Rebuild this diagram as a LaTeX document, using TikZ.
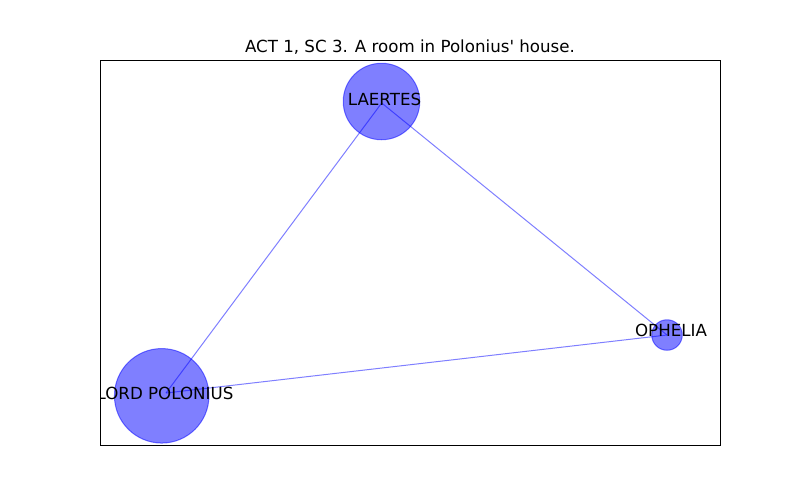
\documentclass[tikz,border=0pt]{standalone}
\usepackage{fontspec}
\setmainfont{DejaVu Sans}[Ligatures=TeXOff]
\begin{document}
\begin{tikzpicture}[x=0.72pt,y=-0.72pt,
  edge/.style={draw=blue,draw opacity=0.5,line width=0.72pt},
  person/.style={circle,fill=blue,fill opacity=0.5,draw=blue,draw opacity=0.5,line width=0.72pt,inner sep=0pt},
  lbl/.style={inner sep=0pt,font=\fontsize{12pt}{14pt}\selectfont,text=black},
  frame/.style={draw=black,line width=0.72pt}]
\useasboundingbox (0,0) rectangle (800,500);
% positions
\coordinate (pL) at (381.7,103);
\coordinate (pO) at (667,335);
\coordinate (pP) at (166,393);
% edges
\draw[edge] (pL) -- (pP);
\draw[edge] (pL) -- (pO);
\draw[edge] (pP) -- (pO);
% nodes
\node[person,minimum size=76.5*0.72pt] (nL) at (381.5,101.5) {};
\node[person,minimum size=30.5*0.72pt] (nO) at (667,335) {};
\node[person,minimum size=94.5*0.72pt] (nP) at (161.7,395.8) {};
% labels
\begin{scope}
\clip (100,60) rectangle (720,445);
\node[lbl] (tL) at (384.5,99) {LAERTES};
\node[lbl] (tO) at (671,330) {OPHELIA};
\node[lbl] (tP) at (165,393) {LORD POLONIUS};
\end{scope}
% frame
\draw[frame] (100,60) rectangle (720,445);
% title
\node[lbl,anchor=base] (title) at (410,52) {ACT 1, SC 3. A room in Polonius' house.};
\end{tikzpicture}
\end{document}
